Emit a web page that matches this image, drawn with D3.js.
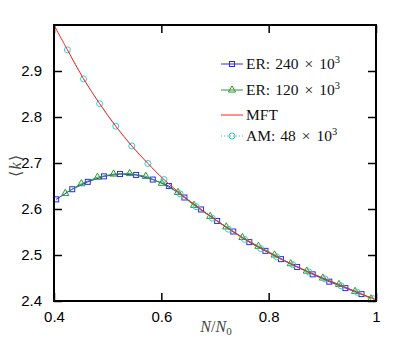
<!DOCTYPE html>
<html>
<head>
<meta charset="utf-8">
<script src="https://cdn.jsdelivr.net/npm/d3@7"></script>
<style>
  html, body { margin: 0; padding: 0; background: #fff; }
  svg { display: block; }
</style>
</head>
<body>
<div id="chart"></div>
<script>
// data
const er240X = [0.404, 0.434, 0.463, 0.493, 0.523, 0.553, 0.584, 0.614, 0.643, 0.674,
                0.704, 0.734, 0.764, 0.794, 0.823, 0.853, 0.882, 0.913, 0.943, 0.973];
const er240Y = [2.621, 2.643, 2.659, 2.671, 2.676, 2.674, 2.664, 2.650, 2.625, 2.599,
                2.574, 2.551, 2.528, 2.509, 2.491, 2.474, 2.458, 2.442, 2.428, 2.415];

const er120X = [0.421, 0.451, 0.481, 0.511, 0.541, 0.571, 0.601, 0.631, 0.661, 0.691,
                0.721, 0.751, 0.781, 0.811, 0.841, 0.871, 0.901, 0.931, 0.961, 0.991];
const er120Y = [2.634, 2.655, 2.669, 2.676, 2.677, 2.671, 2.656, 2.636, 2.608, 2.584,
                2.561, 2.538, 2.519, 2.500, 2.481, 2.465, 2.450, 2.436, 2.421, 2.405];

const mftX = [0.4, 0.425, 0.455, 0.485, 0.515, 0.545, 0.575, 0.605, 0.65, 0.7,
              0.75, 0.8, 0.85, 0.9, 0.95, 1.0];
const mftY = [3.0, 2.946, 2.883, 2.829, 2.780, 2.737, 2.699, 2.664, 2.620, 2.577,
              2.538, 2.505, 2.476, 2.450, 2.426, 2.403];

const amX = [0.425, 0.455, 0.485, 0.515, 0.545, 0.575, 0.605, 0.635, 0.665, 0.695,
             0.725, 0.755, 0.785, 0.815, 0.845, 0.875, 0.905, 0.935, 0.965, 0.995];
const amY = [2.946, 2.883, 2.829, 2.780, 2.737, 2.699, 2.664, 2.633, 2.605, 2.580,
             2.556, 2.534, 2.514, 2.496, 2.479, 2.463, 2.448, 2.433, 2.419, 2.405];

const xTicks = [0.4, 0.6, 0.8, 1];
const xTickLabels = ['0.4', '0.6', '0.8', '1'];
const yTicks = [2.4, 2.5, 2.6, 2.7, 2.8, 2.9];
const yTickLabels = ['2.4', '2.5', '2.6', '2.7', '2.8', '2.9'];

const legendNames = ['ER:', 'ER:', 'MFT', 'AM:'];
const legendSizes = ['240', '120', null, '48'];

const width = 415;
const height = 339;
const plotLeft = 54, plotRight = 376, plotTop = 25, plotBottom = 301;

const blue = '#2a2aff';
const green = '#2c9a2c';
const red = '#ff2020';
const cyan = '#33cccc';

const xScale = d3.scaleLinear().domain([0.4, 1]).range([plotLeft, plotRight]);
const yScale = d3.scaleLinear().domain([2.4, 3.0]).range([plotBottom, plotTop]);

const svg = d3.select('#chart')
  .append('svg')
    .attr('width', width)
    .attr('height', height);

const zip = (xs, ys) => xs.map((x, i) => [x, ys[i]]);

const line = d3.line()
  .x(d => xScale(d[0]))
  .y(d => yScale(d[1]));

const smooth = d3.line()
  .x(d => xScale(d[0]))
  .y(d => yScale(d[1]))
  .curve(d3.curveCatmullRom.alpha(0.5));

const plot = svg.append('g');

// ER 240
const er240 = zip(er240X, er240Y);
plot.append('path').datum(er240)
  .attr('d', line).attr('fill', 'none').attr('stroke', blue).attr('stroke-width', 1);
plot.selectAll('.sq').data(er240).enter().append('rect')
  .attr('x', d => xScale(d[0]) - 2.5)
  .attr('y', d => yScale(d[1]) - 2.5)
  .attr('width', 5).attr('height', 5)
  .attr('fill', 'none').attr('stroke', blue).attr('stroke-width', 1);

// ER 120
const triangle = d3.symbol().type(d3.symbolTriangle).size(22);
const er120 = zip(er120X, er120Y);
plot.append('path').datum(er120)
  .attr('d', line).attr('fill', 'none').attr('stroke', green).attr('stroke-width', 1);
plot.selectAll('.tri').data(er120).enter().append('path')
  .attr('d', triangle)
  .attr('transform', d => `translate(${xScale(d[0])},${yScale(d[1])})`)
  .attr('fill', 'none').attr('stroke', green).attr('stroke-width', 1);

// AM
const am = zip(amX, amY);
plot.append('path').datum(am)
  .attr('d', line).attr('fill', 'none').attr('stroke', cyan)
  .attr('stroke-width', 1).attr('stroke-dasharray', '1,2');
plot.selectAll('.circ').data(am).enter().append('circle')
  .attr('cx', d => xScale(d[0]))
  .attr('cy', d => yScale(d[1]))
  .attr('r', 3)
  .attr('fill', 'none').attr('stroke', cyan).attr('stroke-width', 1);

// MFT
plot.append('path').datum(zip(mftX, mftY))
  .attr('d', smooth).attr('fill', 'none').attr('stroke', red).attr('stroke-width', 1);

// axes with inward ticks on all four sides
const tickLen = 8;
const axisFont = 'Liberation Sans, Arial, sans-serif';

svg.append('g')
  .attr('transform', `translate(0,${plotBottom})`)
  .call(d3.axisBottom(xScale).tickValues(xTicks).tickSizeInner(-tickLen).tickSizeOuter(0)
    .tickPadding(10).tickFormat((d, i) => xTickLabels[i]))
  .call(g => g.select('.domain').remove())
  .call(g => g.selectAll('line').attr('stroke', '#000').attr('stroke-width', 1.5))
  .call(g => g.selectAll('text').attr('font-family', axisFont).attr('font-size', 15).attr('fill', '#000'));

svg.append('g')
  .attr('transform', `translate(0,${plotTop})`)
  .call(d3.axisTop(xScale).tickValues(xTicks).tickSizeInner(-tickLen).tickSizeOuter(0).tickFormat(''))
  .call(g => g.select('.domain').remove())
  .call(g => g.selectAll('line').attr('stroke', '#000').attr('stroke-width', 1.5));

svg.append('g')
  .attr('transform', `translate(${plotLeft},0)`)
  .call(d3.axisLeft(yScale).tickValues(yTicks).tickSizeInner(-tickLen).tickSizeOuter(0)
    .tickPadding(12).tickFormat((d, i) => yTickLabels[i]))
  .call(g => g.select('.domain').remove())
  .call(g => g.selectAll('line').attr('stroke', '#000').attr('stroke-width', 1.5))
  .call(g => g.selectAll('text').attr('font-family', axisFont).attr('font-size', 15).attr('fill', '#000'));

svg.append('g')
  .attr('transform', `translate(${plotRight},0)`)
  .call(d3.axisRight(yScale).tickValues(yTicks).tickSizeInner(-tickLen).tickSizeOuter(0).tickFormat(''))
  .call(g => g.select('.domain').remove())
  .call(g => g.selectAll('line').attr('stroke', '#000').attr('stroke-width', 1.5));

svg.append('rect')
  .attr('x', plotLeft).attr('y', plotTop)
  .attr('width', plotRight - plotLeft).attr('height', plotBottom - plotTop)
  .attr('fill', 'none').attr('stroke', '#000').attr('stroke-width', 2);

// axis titles
const mathFont = 'Liberation Serif, Times New Roman, serif';
const xTitle = svg.append('text')
  .attr('x', 216).attr('y', 332)
  .attr('text-anchor', 'middle')
  .attr('font-family', mathFont).attr('font-size', 16).attr('fill', '#444');
xTitle.append('tspan').attr('font-style', 'italic').text('N');
xTitle.append('tspan').text('/');
xTitle.append('tspan').attr('font-style', 'italic').text('N');
xTitle.append('tspan').attr('font-size', 11).attr('dy', 3).text('0');

const yTitle = svg.append('text')
  .attr('transform', 'translate(21,166) rotate(-90)')
  .attr('text-anchor', 'middle')
  .attr('font-family', mathFont).attr('font-size', 16).attr('fill', '#444');
yTitle.append('tspan').text('\u27E8');
yTitle.append('tspan').attr('font-style', 'italic').attr('dx', 1).text('k');
yTitle.append('tspan').attr('dx', 1).text('\u27E9');

// legend
const legendColors = [blue, green, red, cyan];
const legendMarks = ['square', 'triangle', 'none', 'circle'];
const legendRowY = [64, 90, 115, 136];

const lg = svg.append('g');
legendNames.forEach((name, i) => {
  const color = legendColors[i];
  const mark = legendMarks[i];
  const row = lg.append('g').attr('transform', `translate(0,${legendRowY[i]})`);
  row.append('line')
    .attr('x1', 221).attr('x2', 243)
    .attr('stroke', color).attr('stroke-width', 1)
    .attr('stroke-dasharray', mark === 'circle' ? '1,2' : null);
  if (mark === 'square') {
    row.append('rect').attr('x', 229.5).attr('y', -2.5).attr('width', 5).attr('height', 5)
      .attr('fill', 'none').attr('stroke', color);
  } else if (mark === 'triangle') {
    row.append('path').attr('d', triangle).attr('transform', 'translate(232,0)')
      .attr('fill', 'none').attr('stroke', color);
  } else if (mark === 'circle') {
    row.append('circle').attr('cx', 232).attr('r', 3)
      .attr('fill', 'none').attr('stroke', color);
  }
  const t = row.append('text')
    .attr('x', 246).attr('y', 5)
    .attr('font-family', mathFont).attr('font-size', 15.5).attr('fill', '#111');
  t.append('tspan').text(name);
  if (legendSizes[i]) {
    t.append('tspan').attr('dx', 5).text(legendSizes[i]);
    t.append('tspan').attr('dx', 6).text('\u00D7');
    t.append('tspan').attr('dx', 6).text('10');
    t.append('tspan').attr('font-size', 10.5).attr('dy', -6).text('3');
  }
});
</script>
</body>
</html>
